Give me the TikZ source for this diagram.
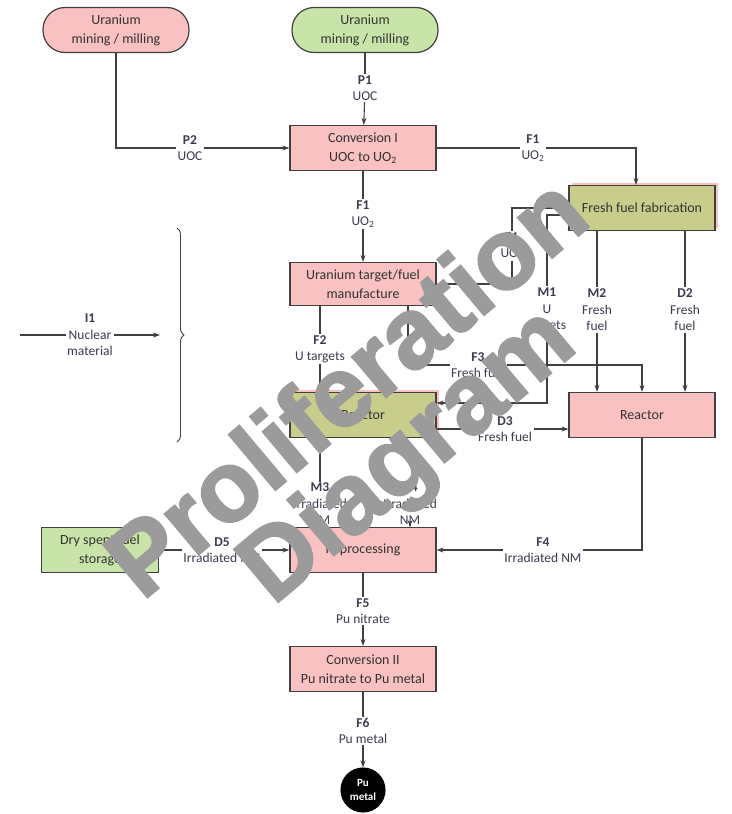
\documentclass[tikz,border=0pt]{standalone}
\usepackage{fontspec}
\setmainfont{Carlito}
\newfontfamily\wmfont[BoldFeatures={FakeBold=2}]{Liberation Sans}
\usetikzlibrary{arrows.meta,decorations.pathreplacing,shadows}

\definecolor{boxpink}{RGB}{249,193,193}
\definecolor{pillgreen}{RGB}{200,228,168}
\definecolor{boxolive}{RGB}{200,205,140}
\definecolor{linegray}{RGB}{64,64,64}
\definecolor{textgray}{RGB}{60,60,80}
\definecolor{wmgray}{RGB}{155,155,155}

\tikzset{
  box/.style={draw=linegray, line width=1.2pt, minimum width=146pt, minimum height=45pt,
    inner sep=1pt, align=center, text=black!80, font=\fontsize{14}{19}\selectfont},
  pinkbox/.style={box, fill=boxpink},
  greenbox/.style={box, fill=pillgreen},
  olivebox/.style={box, fill=boxolive,
    general shadow={fill=boxpink, shadow xshift=3pt, shadow yshift=3pt}},
  pill/.style={rounded corners=22pt},
  flow/.style={fill=white, inner sep=1pt, align=center, text=textgray,
    font=\fontsize{13.5}{16.5}\selectfont},
  watermark/.style={rotate=40, text=wmgray, font=\wmfont\fontsize{100}{100}\selectfont\bfseries},
}

\begin{document}
\begin{tikzpicture}[x=1pt, y=-1pt, color=linegray, line width=1.1pt,
    >={Stealth[length=7pt,width=5pt]}]
    \useasboundingbox (0,0) rectangle (731,814);

    % process boxes
    \node[pinkbox, pill] (mineL) at (116,30) {Uranium\\mining / milling};
    \node[greenbox, pill] (mineR) at (365,30) {Uranium\\mining / milling};
    \node[pinkbox] (conv1) at (363,148) {Conversion I\\UOC to UO\textsubscript{2}};
    \node[olivebox] (fab) at (642,208) {Fresh fuel fabrication};
    \node[pinkbox, minimum height=43pt] (targ) at (363,284) {Uranium target/fuel\\manufacture};
    \node[olivebox] (reacL) at (363,415) {Reactor};
    \node[pinkbox] (reacR) at (642,415) {Reactor};
    \node[greenbox, minimum width=117pt] (dry) at (100,550) {Dry spent fuel\\storage};
    \node[pinkbox] (repro) at (363,550) {Reprocessing};
    \node[pinkbox] (conv2) at (363,669) {Conversion II\\Pu nitrate to Pu metal};
    \node[circle, fill=black, draw=black, minimum size=44pt, inner sep=0pt, align=center,
      text=white, font=\fontsize{11}{14}\selectfont\bfseries] (pu) at (363,790) {Pu\\metal};

    % flow labels
    \node[flow] (p1) at (365,88) {\textbf{P1}\\UOC};
    \node[flow] (p2) at (190,148) {\textbf{P2}\\UOC};
    \node[flow] (f1a) at (533,148) {\textbf{F1}\\UO\textsubscript{2}};
    \node[flow] (f1b) at (363,214) {\textbf{F1}\\UO\textsubscript{2}};
    \node[flow] (f1c) at (512,246) {\textbf{F1}\\UO\textsubscript{2}};
    \node[flow] (m1) at (547,310) {\textbf{M1}\\U\\targets};
    \node[flow] (m2) at (597,310) {\textbf{M2}\\Fresh\\fuel};
    \node[flow] (d2) at (685,310) {\textbf{D2}\\Fresh\\fuel};
    \node[flow] (f2) at (320,349) {\textbf{F2}\\U targets};
    \node[flow] (f3) at (478,365) {\textbf{F3}\\Fresh fuel};
    \node[flow] (d3) at (505,429) {\textbf{D3}\\Fresh fuel};
    \node[flow] (m3) at (320,504) {\textbf{M3}\\Irradiated\\NM};
    \node[flow] (d4) at (410,504) {\textbf{D4}\\Irradiated\\NM};
    \node[flow] (f4) at (543,550) {\textbf{F4}\\Irradiated NM};
    \node[flow] (d5) at (222,550) {\textbf{D5}\\Irradiated NM};
    \node[flow] (f5) at (363,611) {\textbf{F5}\\Pu nitrate};
    \node[flow] (f6) at (363,731) {\textbf{F6}\\Pu metal};
    \node[flow] (i1) at (90,335) {\textbf{I1}\\Nuclear\\material};

    \coordinate (i1w) at (20,335);
    \coordinate (i1e) at (160,335);
    \coordinate (brtop) at (177,228);
    \coordinate (brbot) at (177,442);

    % connectors
    \draw (mineR) -- (p1);
    \draw[->] (p1) -- (conv1);
    \draw (mineL) |- (p2);
    \draw[->] (p2) -- (conv1);
    \draw (conv1) -- (f1a);
    \draw[->] (f1a) -| ([xshift=-6pt]fab.north);
    \draw (conv1) -- (f1b);
    \draw[->] (f1b) -- (targ);
    \draw (fab.west) -| (f1c);
    \draw[->] (f1c) |- (targ);
    \draw ([yshift=-7pt]fab.west) -| (m1);
    \draw[->] (m1) |- ([yshift=12pt]reacL.east);
    \draw (fab.south -| m2) -- (m2);
    \draw[->] (m2) -- (m2 |- reacR.north);
    \draw (fab.south -| d2) -- (d2);
    \draw[->] (d2) -- (d2 |- reacR.north);
    \draw (targ.south -| f2) -- (f2);
    \draw[->] (f2) -- (f2 |- reacL.north);
    \draw ([xshift=45pt]targ.south) |- (f3);
    \draw[->] (f3) -| (reacR);
    \draw (d3 -| reacL.east) -- (d3);
    \draw[->] (d3) -- (d3 -| reacR.west);
    \draw (reacL.south -| m3) -- (m3);
    \draw[->] (m3) -- (m3 |- repro.north);
    \draw[->] (d4) -- (d4 |- repro.north);
    \draw (reacR) |- (f4);
    \draw[->] (f4) -- (repro);
    \draw (dry) -- (d5);
    \draw[->] (d5) -- (repro);
    \draw (repro) -- (f5);
    \draw[->] (f5) -- (conv2);
    \draw (conv2) -- (f6);
    \draw[->] (f6) -- (pu);
    \draw (i1w) -- (i1);
    \draw[->] (i1) -- (i1e);
    \draw[line width=0.9pt, decorate, decoration={brace, amplitude=7pt}] (brtop) -- (brbot);

    % watermark
    \node[watermark] (wm1) at (345,385) {Proliferation};
    \node[watermark] (wm2) at (410,458) {Diagram};
\end{tikzpicture}
\end{document}
